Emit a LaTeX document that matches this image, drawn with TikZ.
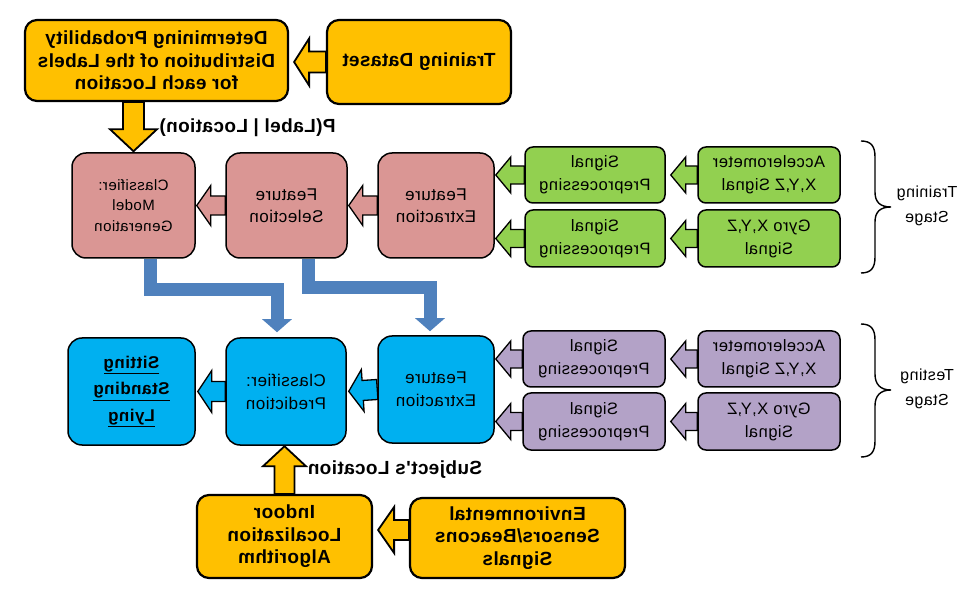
\documentclass[tikz,border=0pt]{standalone}
\usepackage{fontspec}
\setmainfont{Liberation Sans}
\newfontfamily\wideA[LetterSpace=2]{Liberation Sans}
\newfontfamily\wideB[LetterSpace=3]{Liberation Sans}
\usetikzlibrary{calc,arrows.meta,backgrounds}
\definecolor{cyel}{HTML}{FFC000}
\definecolor{cpink}{HTML}{DA9694}
\definecolor{cgreen}{HTML}{92D050}
\definecolor{cblue}{HTML}{00B0F0}
\definecolor{cpurple}{HTML}{B3A2C7}
\definecolor{ccon}{HTML}{4F81BD}
% #1 style, #2 tail, #3 target, #4 gap, #5 shaft half width, #6 head half width, #7 head length
\newcommand{\blkarr}[7]{%
  \coordinate (batip) at ($(#3)!#4pt!(#2)$);
  \coordinate (bahead) at ($(batip)!#7pt!(#2)$);
  \draw[#1] ($(#2)!#5pt!90:(batip)$) -- ($(bahead)!#5pt!90:(batip)$)
    -- ($(bahead)!#6pt!90:(batip)$) -- (batip)
    -- ($(bahead)!#6pt!-90:(batip)$) -- ($(bahead)!#5pt!-90:(batip)$)
    -- ($(#2)!#5pt!-90:(batip)$) -- cycle;
}
\tikzset{
  box/.style={draw=black, line width=1.5pt, align=center, inner sep=2pt},
  ybox/.style={box, fill=cyel, line width=2.2pt, rounded corners=12pt,
    font=\wideA\bfseries\fontsize{19}{22.5}\selectfont},
  pbox/.style={box, fill=cpink, rounded corners=14pt,
    font=\wideB\fontsize{17}{22}\selectfont},
  gbox/.style={box, fill=cgreen, rounded corners=8pt,
    font=\wideB\fontsize{16.5}{23}\selectfont},
  ubox/.style={box, fill=cpurple, rounded corners=8pt,
    font=\wideB\fontsize{16.5}{23}\selectfont},
  bbox/.style={box, fill=cblue, rounded corners=14pt,
    font=\wideB\fontsize{17}{23}\selectfont},
  yarr/.style={fill=cyel, draw=black, line width=1.8pt, line join=miter},
  parr/.style={fill=cpink, draw=black, line width=1.3pt, line join=miter},
  garr/.style={fill=cgreen, draw=black, line width=1.3pt, line join=miter},
  uarr/.style={fill=cpurple, draw=black, line width=1.3pt, line join=miter},
  barr/.style={fill=cblue, draw=black, line width=1.3pt, line join=miter},
  bcon/.style={draw=ccon, line width=13pt, line join=miter,
    -{Triangle[length=13pt,width=29pt]}},
  lbl/.style={font=\wideA\bfseries\fontsize{19}{22}\selectfont},
  stage/.style={align=center, font=\wideB\fontsize{16}{25}\selectfont},
  bracestyle/.style={draw=black, line width=1.4pt}
}
\begin{document}
\begin{tikzpicture}[x=-1pt,y=-1pt]
\begin{scope}[xscale=-1, transform shape]
\useasboundingbox (0,0) rectangle (980,601);

% yellow boxes
\node[ybox, minimum width=263pt, minimum height=81pt] (det) at (156.5,60.5)
  {Determining Probability\\Distribution of the Labels\\for each Location};
\node[ybox, minimum width=184pt, minimum height=84pt] (td) at (419,62) {Training Dataset};
\node[ybox, minimum width=175pt, minimum height=83pt] (indoor) at (284.5,536.5)
  {Indoor\\Localization\\Algorithm};
\node[ybox, minimum width=215pt, minimum height=80pt] (env) at (517.5,538)
  {Environmental\\Sensors/Beacons\\Signals};

% pink boxes
\node[pbox, minimum width=123pt, minimum height=105pt, font=\wideB\fontsize{15}{20.5}\selectfont] (cmg) at (133.5,205.5)
  {Classifier:\\Model\\Generation};
\node[pbox, minimum width=121pt, minimum height=105pt] (fs) at (286.5,205.5) {Feature\\Selection};
\node[pbox, minimum width=116pt, minimum height=105pt] (fe1) at (436,205.5) {Feature\\Extraction};

% green boxes
\node[gbox, minimum width=140pt, minimum height=56pt] (sp1) at (595,175) {Signal\\Preprocessing};
\node[gbox, minimum width=142pt, minimum height=56pt] (acc1) at (769,175) {Accelerometer\\X,Y,Z Signal};
\node[gbox, minimum width=140pt, minimum height=57pt] (sp2) at (595,238.5) {Signal\\Preprocessing};
\node[gbox, minimum width=142pt, minimum height=57pt] (gyro1) at (769,238.5) {Gyro X,Y,Z\\Signal};

% purple boxes
\node[ubox, minimum width=142pt, minimum height=56pt] (sp3) at (594,359) {Signal\\Preprocessing};
\node[ubox, minimum width=142pt, minimum height=56pt] (acc2) at (769,359) {Accelerometer\\X,Y,Z Signal};
\node[ubox, minimum width=142pt, minimum height=57pt] (sp4) at (594,421.5) {Signal\\Preprocessing};
\node[ubox, minimum width=142pt, minimum height=57pt] (gyro2) at (769,421.5) {Gyro X,Y,Z\\Signal};

% blue boxes
\node[bbox, minimum width=127pt, minimum height=107pt, font=\wideB\bfseries\fontsize{17}{26.5}\selectfont] (res) at (131.5,391.5)
  {\underline{Sitting}\\\underline{Standing}\\\underline{Lying}};
\node[bbox, minimum width=120pt, minimum height=107pt] (cp) at (286,391.5) {Classifier:\\Prediction};
\node[bbox, minimum width=116pt, minimum height=107pt] (fe2) at (436,389.5) {Feature\\Extraction};

% blue connectors (under the boxes)
\begin{pgfonlayer}{background}
\draw[bcon] ($(cmg.south)+(16.5,0)$) -- ++(0,31) -| ($(cp.north)+(-9,-5)$);
\draw[bcon] ($(fs.south)+(21.5,0)$) -- ++(0,29) -| ($(fe2.north)+(-6,-4)$);
\end{pgfonlayer}

% block arrows
\coordinate (tdtip) at (td.east -| det.west);
\blkarr{yarr}{td.east}{tdtip}{5}{10.5}{23.5}{15}
\coordinate (detout) at (det.south -| cmg.north);
\blkarr{yarr}{detout}{cmg.north}{1}{10.5}{23.5}{22}
\coordinate (envout) at ($(env.east)+(0,-8)$);
\coordinate (envtip) at (envout -| indoor.west);
\blkarr{yarr}{envout}{envtip}{5}{10}{23}{16}
\coordinate (indtip) at (indoor.north |- cp.south);
\blkarr{yarr}{indoor.north}{indtip}{0.5}{10}{21.5}{20}

\blkarr{parr}{fe1.east}{fs.west}{1}{9.5}{20}{14}
\blkarr{parr}{fs.east}{cmg.west}{1}{9.5}{20}{14}

\blkarr{garr}{acc1.east}{sp1.west}{5}{9}{18}{15}
\blkarr{garr}{gyro1.east}{sp2.west}{5}{9}{18}{15}
\coordinate (sp1tip) at (sp1.east -| fe1.west);
\coordinate (sp2tip) at (sp2.east -| fe1.west);
\blkarr{garr}{sp1.east}{sp1tip}{1}{9}{18}{15}
\blkarr{garr}{sp2.east}{sp2tip}{1}{9}{18}{15}

\blkarr{uarr}{acc2.east}{sp3.west}{5}{9}{18}{15}
\blkarr{uarr}{gyro2.east}{sp4.west}{5}{9}{18}{15}
\coordinate (sp3tip) at (sp3.east -| fe2.west);
\coordinate (sp4tip) at (sp4.east -| fe2.west);
\blkarr{uarr}{sp3.east}{sp3tip}{1}{9}{18}{15}
\blkarr{uarr}{sp4.east}{sp4tip}{1}{9}{18}{15}

\blkarr{barr}{fe2.east}{cp.west}{2}{10}{21}{14}
\blkarr{barr}{cp.east}{res.west}{2}{10}{21}{14}

% labels
\node[lbl] (plabel) at (247.5,128) {P(Label | Location)};
\node[lbl] (slabel) at (395,470) {Subject's Location};

% braces
\draw[bracestyle] (861,141) .. controls (871,141) and (875,146) .. (875,157) -- (875,192)
  .. controls (875,202) and (880,207) .. (891,207)
  .. controls (880,207) and (875,212) .. (875,222) -- (875,257)
  .. controls (875,268) and (871,273) .. (861,273);
\draw[bracestyle] (861,324) .. controls (871,324) and (875,329) .. (875,340) -- (875,374)
  .. controls (875,384) and (880,390) .. (891,390)
  .. controls (880,390) and (875,396) .. (875,406) -- (875,441)
  .. controls (875,452) and (871,457) .. (861,457);
\node[stage] (trst) at (927,206) {Training\\Stage};
\node[stage] (test) at (927,389) {Testing\\Stage};
\end{scope}
\end{tikzpicture}
\end{document}
